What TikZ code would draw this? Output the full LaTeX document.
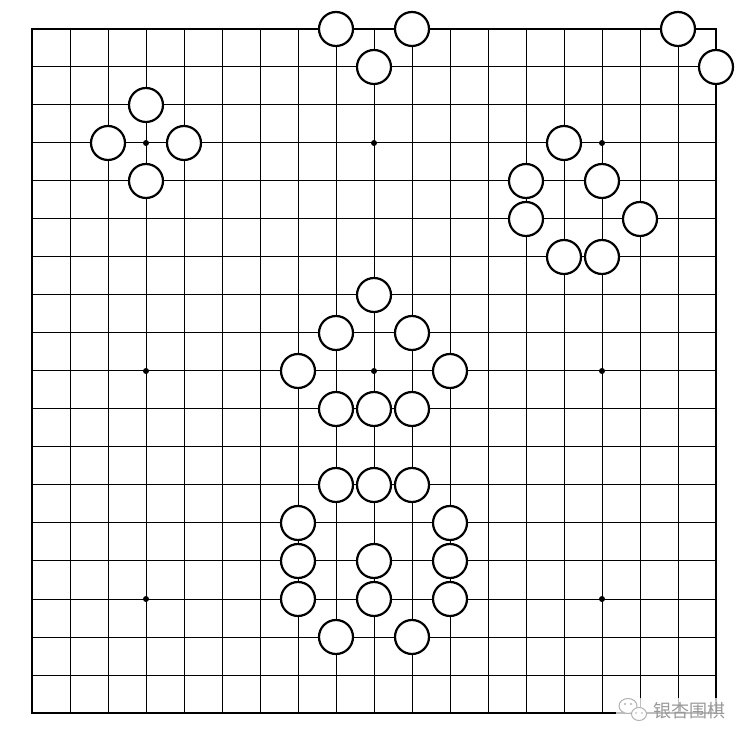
\documentclass[tikz,border=0pt]{standalone}
\usepackage{fontspec}
\newfontfamily\cjk{Noto Sans CJK SC}
\begin{document}
\begin{tikzpicture}[x=1pt,y=-1pt,
  gridline/.style={line width=1pt,black},
  frame/.style={line width=2.2pt,black},
  stone/.style={circle,draw=black,fill=white,line width=2.2pt,minimum size=34pt,inner sep=0pt},
  hoshi/.style={circle,fill=black,minimum size=6pt,inner sep=0pt},
  wmtext/.style={text=black!40,font=\cjk\fontsize{18}{18}\selectfont}]
\useasboundingbox (0,0) rectangle (748,743);
\foreach \i in {1,...,17}{
  \draw[gridline] (32+38*\i,29) -- (32+38*\i,713);
  \draw[gridline] (32,29+38*\i) -- (716,29+38*\i);
}
\draw[frame] (32,29) rectangle (716,713);
\foreach \i/\j [count=\n] in {3/3,9/3,15/3,3/9,9/9,15/9,3/15,9/15,15/15}
  \node[hoshi] (h\n) at (32+38*\i,29+38*\j) {};
\foreach \i/\j [count=\n] in {8/0,10/0,9/1,17/0,18/1,
  3/2,2/3,4/3,3/4,
  14/3,13/4,15/4,13/5,16/5,14/6,15/6,
  9/7,8/8,10/8,7/9,11/9,8/10,9/10,10/10,
  8/12,9/12,10/12,7/13,11/13,7/14,9/14,11/14,7/15,9/15,11/15,8/16,10/16}
  \node[stone] (s\n) at (32+38*\i,29+38*\j) {};
% watermark
\fill[white,opacity=0.75] (616,698) rectangle (727,723);
\node[wmtext,anchor=center] (wm) at (689,711) {银杏围棋};
\draw[black!30,line width=1pt,fill=white] (628,706) ellipse (9pt and 7.5pt);
\draw[black!30,line width=1pt,fill=white] (639,714) ellipse (7.5pt and 6.5pt);
\fill[black!30] (625,704) circle (1.1pt) (631,704) circle (1.1pt) (636,713) circle (0.9pt) (642,713) circle (0.9pt);
\end{tikzpicture}
\end{document}
